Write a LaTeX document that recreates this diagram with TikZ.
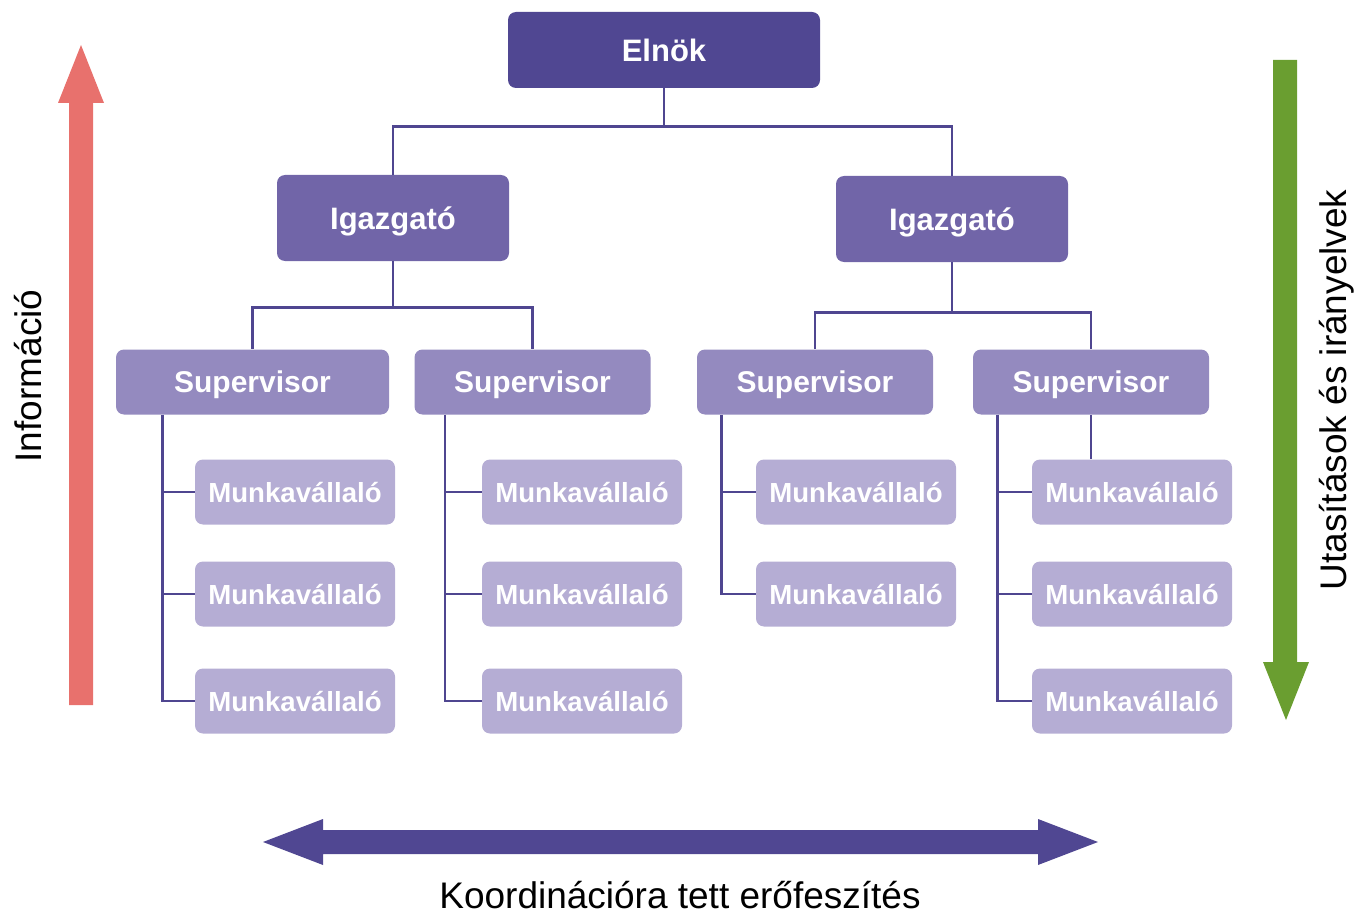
\documentclass[tikz,border=0pt]{standalone}
\usepackage{fontspec}
\setmainfont{Liberation Sans}
\definecolor{orgTop}{HTML}{504792}
\definecolor{orgDir}{HTML}{7165A8}
\definecolor{orgSup}{HTML}{948ABF}
\definecolor{orgEmp}{HTML}{B5ADD4}
\definecolor{orgLine}{HTML}{4F4690}
\definecolor{orgRed}{HTML}{E8716D}
\definecolor{orgGreen}{HTML}{6A9E30}
\usetikzlibrary{calc}

\begin{document}
\begin{tikzpicture}[x=0.5pt, y=-0.5pt,
  box/.style={rounded corners=4pt, text=white, inner sep=0pt, text depth=0pt},
  topbox/.style={box, fill=orgTop, minimum width=156pt, minimum height=38pt, font=\fontsize{15.5}{18}\selectfont\bfseries},
  dirbox/.style={box, fill=orgDir, minimum width=116pt, minimum height=43pt, font=\fontsize{15.5}{18}\selectfont\bfseries},
  supbox/.style={box, fill=orgSup, minimum width=118pt, minimum height=32.5pt, font=\fontsize{15}{17}\selectfont\bfseries},
  empbox/.style={box, fill=orgEmp, minimum width=100pt, minimum height=32.5pt, font=\fontsize{13.8}{16}\selectfont\bfseries},
  link/.style={orgLine, line width=1.15pt},
  axislabel/.style={font=\fontsize{18.5}{22}\selectfont}]
  \useasboundingbox (0,0) rectangle (1372,915);

  % Side and bottom arrows
  \fill[orgRed] (69,705) -- (69,103) -- (58,103) -- (81,45) -- (104,103) -- (93,103) -- (93,705) -- cycle;
  \fill[orgGreen] (1273,60) -- (1273,662) -- (1263,662) -- (1286,720) -- (1309,662) -- (1297,662) -- (1297,60) -- cycle;
  \fill[orgTop] (263,842) -- (323,819) -- (323,830) -- (1038,830) -- (1038,819) -- (1098,842)
    -- (1038,865) -- (1038,854) -- (323,854) -- (323,865) -- cycle;
  \node[axislabel, rotate=90] (info) at (28,376) {Információ};
  \node[axislabel, rotate=90] (utas) at (1337,390) {Utasítások és irányelvek};
  \node[axislabel] (koord) at (680,895) {Koordinációra tett erőfeszítés};

  % Hierarchy boxes
  \node[topbox] (elnok) at (664,50) {Elnök};
  \node[dirbox] (igL) at (393,218) {Igazgató};
  \node[dirbox] (igR) at (952,219) {Igazgató};
  \node[supbox, minimum width=136.5pt] (sup1) at (252.5,382) {Supervisor};
  \node[supbox] (sup2) at (532.5,382) {Supervisor};
  \node[supbox] (sup3) at (815,382) {Supervisor};
  \node[supbox] (sup4) at (1091,382) {Supervisor};

  \node[empbox] (m11) at (295,492) {Munkavállaló};
  \node[empbox] (m12) at (295,594) {Munkavállaló};
  \node[empbox] (m13) at (295,701) {Munkavállaló};
  \node[empbox] (m21) at (582,492) {Munkavállaló};
  \node[empbox] (m22) at (582,594) {Munkavállaló};
  \node[empbox] (m23) at (582,701) {Munkavállaló};
  \node[empbox] (m31) at (856,492) {Munkavállaló};
  \node[empbox] (m32) at (856,594) {Munkavállaló};
  \node[empbox] (m41) at (1132,492) {Munkavállaló};
  \node[empbox] (m42) at (1132,594) {Munkavállaló};
  \node[empbox] (m43) at (1132,701) {Munkavállaló};

  % Connectors
  \draw[link] (elnok.south) -- +(0,38) -| (igL.north);
  \draw[link] (elnok.south) -- +(0,38) -| (igR.north);
  \draw[link] (igL.south) -- +(0,46) -| (sup1.north);
  \draw[link] (igL.south) -- +(0,46) -| (sup2.north);
  \draw[link] (igR.south) -- +(0,50) -| (sup3.north);
  \draw[link] (igR.south) -- +(0,50) -| (sup4.north);

  \draw[link] ([xshift=23.5pt]sup1.south west) |- (m11.west);
  \draw[link] ([xshift=23.5pt]sup1.south west) |- (m12.west);
  \draw[link] ([xshift=23.5pt]sup1.south west) |- (m13.west);
  \draw[link] ([xshift=15.5pt]sup2.south west) |- (m21.west);
  \draw[link] ([xshift=15.5pt]sup2.south west) |- (m22.west);
  \draw[link] ([xshift=15.5pt]sup2.south west) |- (m23.west);
  \draw[link] ([xshift=12.5pt]sup3.south west) |- (m31.west);
  \draw[link] ([xshift=12.5pt]sup3.south west) |- (m32.west);
  \draw[link] ([xshift=12.5pt]sup4.south west) |- (m41.west);
  \draw[link] ([xshift=12.5pt]sup4.south west) |- (m42.west);
  \draw[link] ([xshift=12.5pt]sup4.south west) |- (m43.west);
  \draw[link] (sup4.south) -- (sup4.south |- m41.north);
\end{tikzpicture}
\end{document}
